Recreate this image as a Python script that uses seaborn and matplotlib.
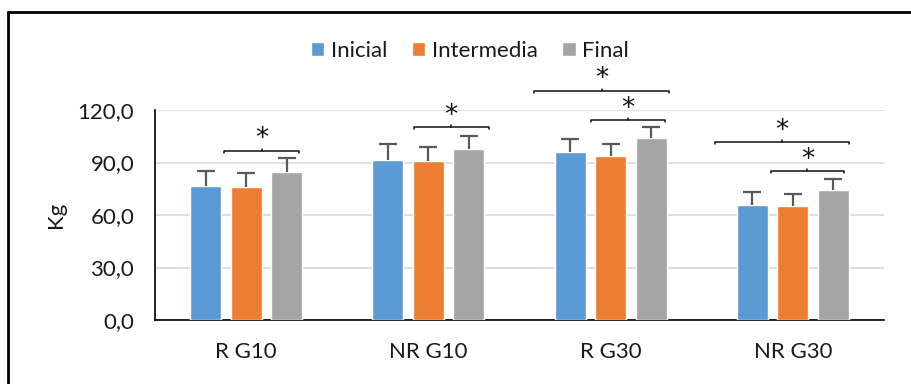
import matplotlib
matplotlib.use("Agg")
import matplotlib.pyplot as plt
import seaborn as sns
import pandas as pd
import numpy as np
from matplotlib.lines import Line2D
from matplotlib.ticker import FuncFormatter

# Grupos y fases de medición
groups = ["R G10", "NR G10", "R G30", "NR G30"]
phases = ["Inicial", "Intermedia", "Final"]

# Medias (kg)
inicial = [76.7, 91.7, 95.8, 65.5]
intermedia = [75.8, 90.9, 93.9, 65.3]
final = [84.7, 97.5, 104.0, 74.3]

# Desviaciones típicas (kg)
inicial_sd = [8.4, 8.7, 7.4, 7.5]
intermedia_sd = [8.0, 8.0, 6.7, 6.7]
final_sd = [8.0, 7.8, 6.5, 6.4]

# Diferencias significativas: (grupo, extremo izq., extremo der., altura de la llave)
sig_group = [0, 1, 2, 2, 3, 3]
sig_left = [-0.12, -0.08, -0.11, -0.42, -0.12, -0.43]
sig_right = [0.29, 0.33, 0.30, 0.32, 0.28, 0.31]
sig_height = [96.8, 110.3, 114.3, 131.0, 85.1, 101.7]

y_ticks = [0, 30, 60, 90, 120]
colors = ["#5B9BD5", "#ED7D31", "#A5A5A5"]

sns.set_theme(style="white")
plt.rcParams["font.family"] = ["Lato", "DejaVu Sans"]

df = pd.DataFrame({
    "grupo": groups * 3,
    "fase": np.repeat(phases, len(groups)),
    "kg": inicial + intermedia + final,
    "sd": inicial_sd + intermedia_sd + final_sd,
})

fig = plt.figure(figsize=(9.12, 3.84), dpi=100)
fig.patch.set_facecolor("white")

ax = fig.add_axes([155 / 912, 1 - 320 / 384, (884 - 155) / 912, (320 - 110) / 384])

sns.barplot(data=df, x="grupo", y="kg", hue="fase", order=groups, hue_order=phases,
            palette=colors, saturation=1, width=0.667, gap=0.235, errorbar=None,
            legend=True, ax=ax, zorder=3)

# Barras de error (solo hacia arriba, con remate superior)
sds = [inicial_sd, intermedia_sd, final_sd]
err_color = "#595959"
for cont, sd in zip(ax.containers, sds):
    xs = np.array([b.get_x() + b.get_width() / 2 for b in cont])
    hs = np.array([b.get_height() for b in cont])
    tops = hs + np.array(sd)
    ax.vlines(xs, hs, tops, color=err_color, lw=1.6, zorder=4)
    ax.plot(xs, tops, ls="none", marker="_", ms=12.5, mew=1.6, color=err_color,
            zorder=4)

# Llaves de significación
for g, l, r, h in zip(sig_group, sig_left, sig_right, sig_height):
    x0, x1 = g + l, g + r
    xm = (x0 + x1) / 2
    ax.plot([x0, x0, x1, x1], [h - 1.3, h, h, h - 1.3], color="#111111", lw=1.1,
            clip_on=False, zorder=5)
    ax.plot([xm, xm], [h, h + 1.2], color="#111111", lw=1.1, clip_on=False, zorder=5)
    ax.text(xm, h + 6.5, "*", ha="center", va="center", fontsize=19,
            family="DejaVu Sans", color="#111111", clip_on=False, zorder=5)

ax.set_ylim(0, 120)
ax.set_xlim(-0.5, 3.5)
ax.set_yticks(y_ticks)
ax.yaxis.set_major_formatter(FuncFormatter(lambda v, p: f"{v:.1f}".replace(".", ",")))
ax.grid(axis="y", color="#d9d9d9", lw=1.2, zorder=0)
ax.set_axisbelow(True)
ax.tick_params(axis="y", length=0, pad=15, labelsize=16, labelcolor="#1a1a1a")
ax.tick_params(axis="x", length=0, pad=16, labelsize=16, labelcolor="#1a1a1a")
ax.set_xlabel("")
ax.set_ylabel("Kg", fontsize=16, color="#1a1a1a", labelpad=8)
for s in ["top", "right"]:
    ax.spines[s].set_visible(False)
for s in ["left", "bottom"]:
    ax.spines[s].set_color("black")
    ax.spines[s].set_linewidth(1.2)

handles, labels = ax.get_legend_handles_labels()
ax.legend_.remove()
fig.legend(handles, labels, loc="center", bbox_to_anchor=(470 / 912, 1 - 51 / 384),
           ncol=3, frameon=False, fontsize=16, handlelength=0.6, handleheight=0.6,
           handletextpad=0.3, columnspacing=1.1, labelcolor="#1a1a1a")

# Marco del gráfico
fig.add_artist(Line2D([8 / 912, 8 / 912], [0, 1 - 12 / 384], color="black", lw=2,
                      transform=fig.transFigure))
fig.add_artist(Line2D([8 / 912, 1], [1 - 12 / 384, 1 - 12 / 384], color="black", lw=2,
                      transform=fig.transFigure))

fig.savefig("out.png", dpi=100, facecolor="white")
